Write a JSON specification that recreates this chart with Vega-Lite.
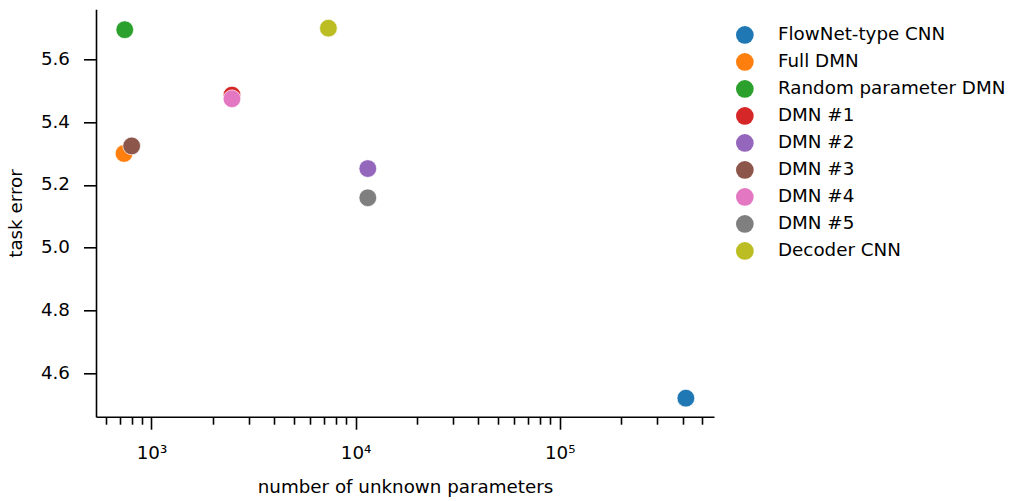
{
  "$schema": "https://vega.github.io/schema/vega-lite/v6.json",
  "autosize": "none",
  "width": 618,
  "height": 407.4,
  "padding": {"left": 96, "top": 9.3, "right": 295, "bottom": 84.3},
  "background": "white",
  "config": {
    "view": {"stroke": null},
    "font": "DejaVu Sans",
    "axis": {
      "grid": false,
      "domainColor": "black",
      "domainWidth": 1.6,
      "tickColor": "black",
      "tickWidth": 1.6,
      "labelColor": "black",
      "labelFont": "DejaVu Sans",
      "labelFontSize": 18.3,
      "titleFont": "DejaVu Sans",
      "titleFontSize": 18.3,
      "titleFontWeight": "normal",
      "titleColor": "black"
    }
  },
  "data": {
    "values": [
      {"model": "FlowNet-type CNN", "params": 415000, "error": 4.521},
      {"model": "Full DMN", "params": 734, "error": 5.300},
      {"model": "Random parameter DMN", "params": 740, "error": 5.694},
      {"model": "DMN #1", "params": 2480, "error": 5.486},
      {"model": "DMN #2", "params": 11480, "error": 5.252},
      {"model": "DMN #3", "params": 800, "error": 5.324},
      {"model": "DMN #4", "params": 2480, "error": 5.474},
      {"model": "DMN #5", "params": 11480, "error": 5.159},
      {"model": "Decoder CNN", "params": 7360, "error": 5.699}
    ]
  },
  "mark": {"type": "circle", "size": 314, "opacity": 1, "stroke": "white", "strokeWidth": 0.7},
  "encoding": {
    "x": {
      "field": "params",
      "type": "quantitative",
      "title": "number of unknown parameters",
      "scale": {"type": "log", "domain": [535, 570000], "nice": false},
      "axis": {
        "values": [600, 700, 800, 900, 1000, 2000, 3000, 4000, 5000, 6000, 7000, 8000, 9000, 10000, 20000, 30000, 40000, 50000, 60000, 70000, 80000, 90000, 100000, 200000, 300000, 400000, 500000],
        "labelExpr": "datum.value == 1000 ? '10³' : datum.value == 10000 ? '10⁴' : datum.value == 100000 ? '10⁵' : ''",
        "tickSize": {"condition": {"test": "datum.value == 1000 || datum.value == 10000 || datum.value == 100000", "value": 12.5}, "value": 7.5},
        "labelOverlap": false,
        "labelFlush": false,
        "labelBound": false,
        "labelPadding": 15,
        "titlePadding": 17
      }
    },
    "y": {
      "field": "error",
      "type": "quantitative",
      "title": "task error",
      "scale": {"domain": [4.462, 5.759], "nice": false, "zero": false},
      "axis": {
        "values": [4.6, 4.8, 5.0, 5.2, 5.4, 5.6],
        "format": ".1f",
        "tickSize": 12.5,
        "labelPadding": 14,
        "titlePadding": 15
      }
    },
    "color": {
      "field": "model",
      "type": "nominal",
      "scale": {
        "domain": ["FlowNet-type CNN", "Full DMN", "Random parameter DMN", "DMN #1", "DMN #2", "DMN #3", "DMN #4", "DMN #5", "Decoder CNN"],
        "range": ["#1f77b4", "#ff7f0e", "#2ca02c", "#d62728", "#9467bd", "#8c564b", "#e377c2", "#7f7f7f", "#bcbd22"]
      },
      "legend": {
        "orient": "none",
        "legendX": 639.7,
        "legendY": 16.5,
        "title": null,
        "symbolType": "circle",
        "symbolSize": 314,
        "symbolStrokeWidth": 0,
        "symbolOpacity": 1,
        "labelFont": "DejaVu Sans",
        "labelFontSize": 18.3,
        "labelColor": "black",
        "labelOffset": 24,
        "rowPadding": 7,
        "padding": 0,
        "labelLimit": 400
      }
    }
  }
}
